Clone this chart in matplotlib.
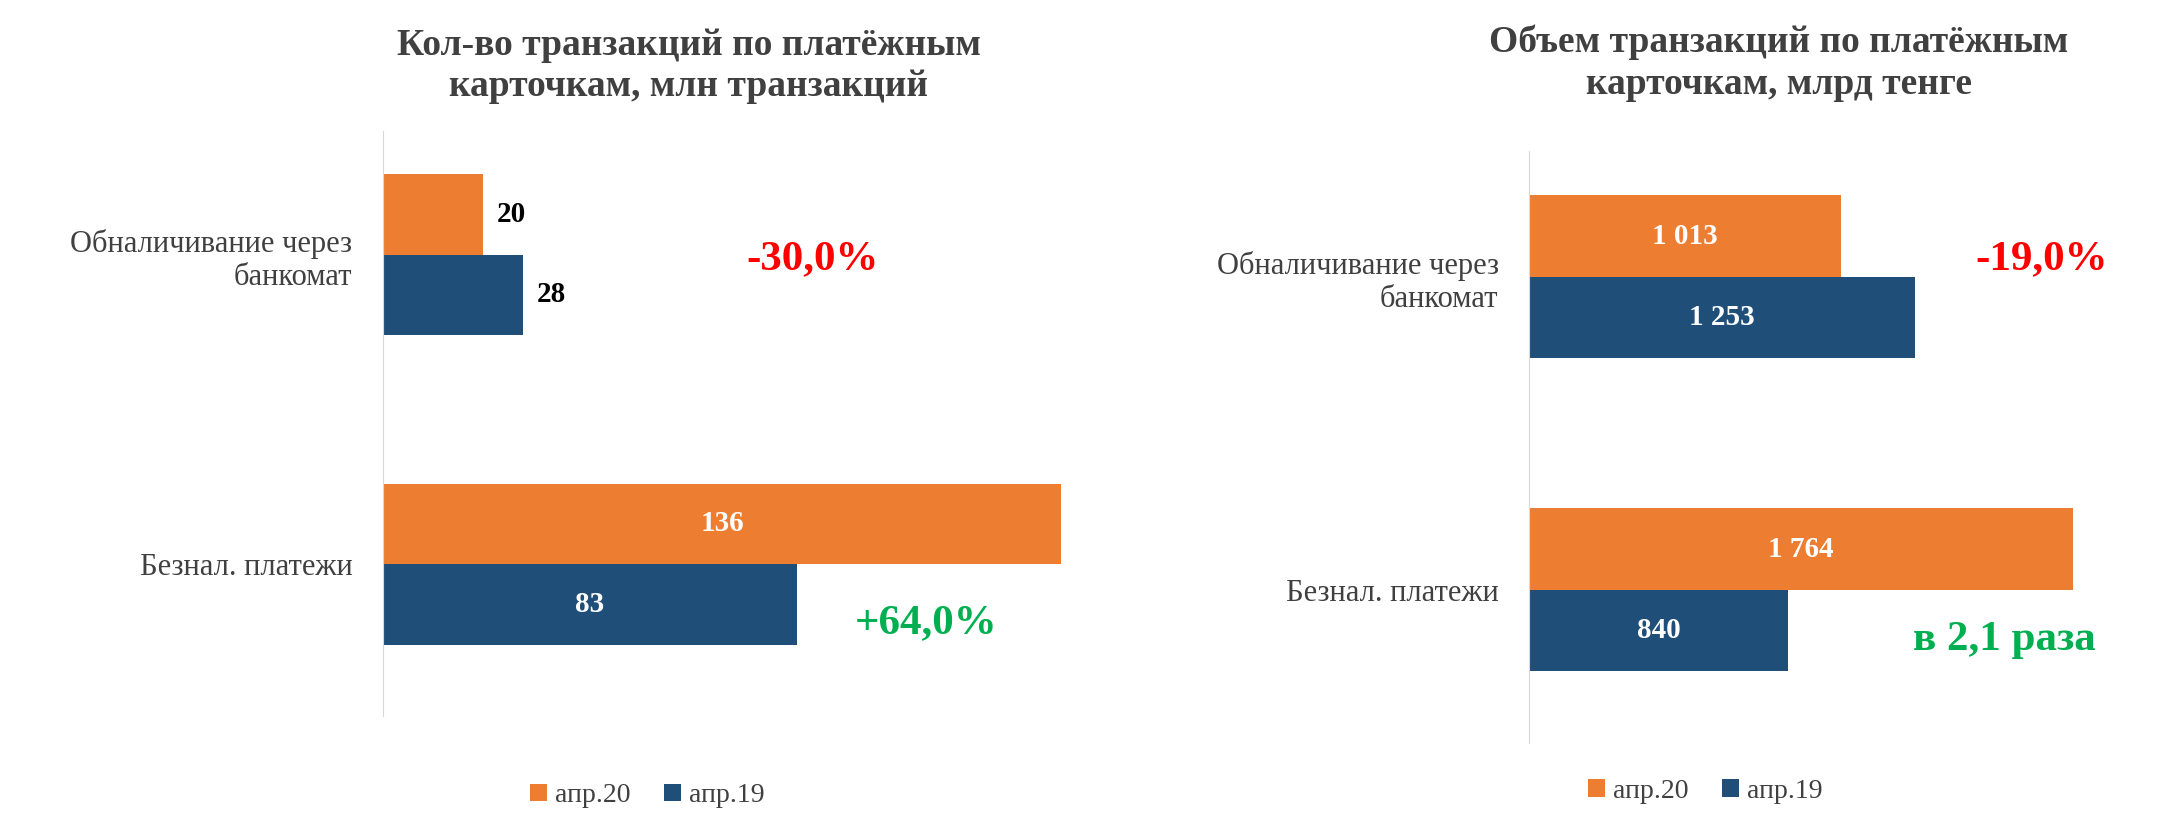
import matplotlib
matplotlib.use("Agg")
import matplotlib.pyplot as plt
import numpy as np

plt.rcParams['font.family'] = ['Liberation Serif', 'DejaVu Serif']

categories = ["Безнал. платежи", "Обналичивание через\nбанкомат"]
series_names = ["апр.20", "апр.19"]
count_apr20 = [136, 20]
count_apr19 = [83, 28]
vol_apr20 = [1764, 1013]
vol_apr19 = [840, 1253]
count_labels20 = ["136", "20"]
count_labels19 = ["83", "28"]
vol_labels20 = ["1 764", "1 013"]
vol_labels19 = ["840", "1 253"]
titles = ["Кол-во транзакций по платёжным\nкарточкам, млн транзакций",
          "Объем транзакций по платёжным\nкарточкам, млрд тенге"]

ORANGE = "#ED7D31"
BLUE = "#1F4E79"
W, H = 1568, 600
fig = plt.figure(figsize=(21.6, 8.26), dpi=100)

def panel(rect, v20, v19, l20, l19, xmax, title, inside_cash, ttl_y, leg_xy):
    ax = fig.add_axes(rect)
    y = np.arange(len(categories))
    h = 0.26
    b1 = ax.barh(y + h/2, v20, height=h, color=ORANGE, label=series_names[0])
    b2 = ax.barh(y - h/2, v19, height=h, color=BLUE, label=series_names[1])
    ax.set_xlim(0, xmax)
    ax.set_ylim(-0.49, 1.4)
    ax.set_yticks(y)
    ax.set_yticklabels(categories, fontsize=22, color="#404040")
    ax.tick_params(axis='y', length=0, pad=22)
    ax.set_xticks([])
    for s in ["top", "right", "bottom"]:
        ax.spines[s].set_visible(False)
    ax.spines["left"].set_color("#D9D9D9")
    for bars, labs in ((b1, l20), (b2, l19)):
        for i, (r, t) in enumerate(zip(bars, labs)):
            w = r.get_width()
            yc = r.get_y() + r.get_height()/2
            if i == 1 and not inside_cash:
                ax.text(w + xmax*0.02, yc, t, va='center', ha='left', fontsize=21,
                        fontweight='bold', color='black')
            else:
                ax.text(w/2, yc, t, va='center', ha='center', fontsize=21,
                        fontweight='bold', color='white')
    fig.text(rect[0] + rect[2]/2 - 0.02, ttl_y, title, ha='center', va='center',
             fontsize=27, fontweight='bold', color="#404040", linespacing=1.25)
    leg = fig.legend(handles=[b1, b2], loc='center', bbox_to_anchor=leg_xy,
                     ncol=2, frameon=False, fontsize=20, handlelength=0.6,
                     handleheight=0.6, columnspacing=1.2, handletextpad=0.3)
    for t in leg.get_texts():
        t.set_color("#404040")
    return ax

panel([278/W, 1-520/600, (785-278)/W, (520-95)/600], count_apr20, count_apr19,
      count_labels20, count_labels19, 140, titles[0], False, 1-48/600, (470/W, 1-578/600))
panel([1110/W, 1-540/600, (1535-1110)/W, (540-110)/600], vol_apr20, vol_apr19,
      vol_labels20, vol_labels19, 1900, titles[1], True, 1-46/600, (1238/W, 1-575/600))

fig.text(590/W, 1-188/600, "-30,0%", color="#FF0000", fontsize=31, ha='center', va='center', fontweight='bold')
fig.text(672/W, 1-453/600, "+64,0%", color="#00B050", fontsize=31, ha='center', va='center', fontweight='bold')
fig.text(1482/W, 1-188/600, "-19,0%", color="#FF0000", fontsize=31, ha='center', va='center', fontweight='bold')
fig.text(1455/W, 1-465/600, "в 2,1 раза", color="#00B050", fontsize=31, ha='center', va='center', fontweight='bold')

fig.savefig("out.png", dpi=100)
